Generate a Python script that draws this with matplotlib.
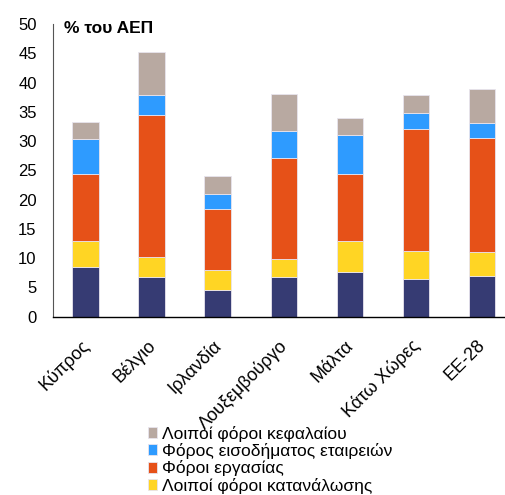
import matplotlib
matplotlib.use("Agg")
import matplotlib.pyplot as plt
import matplotlib.transforms as mtransforms
import numpy as np

plt.rcParams['font.family'] = ['Liberation Sans', 'DejaVu Sans']

countries = ['Κύπρος', 'Βέλγιο', 'Ιρλανδία', 'Λουξεμβούργο', 'Μάλτα', 'Κάτω Χώρες', 'ΕΕ-28']

# tax components, % of GDP (stacked bottom to top)
consumption = [8.5, 6.7, 4.6, 6.7, 7.7, 6.5, 7.0]
other_consumption = [4.5, 3.5, 3.3, 3.1, 5.2, 4.8, 4.1]
labour = [11.3, 24.3, 10.45, 17.35, 11.5, 20.8, 19.4]
corporate_income = [6.0, 3.3, 2.65, 4.5, 6.7, 2.75, 2.6]
other_capital = [2.9, 7.4, 3.0, 6.35, 2.8, 3.05, 5.85]

series = [
    (consumption, '#363B73', 'Φόροι κατανάλωσης'),
    (other_consumption, '#FFD524', 'Λοιποί φόροι κατανάλωσης'),
    (labour, '#E65118', 'Φόροι εργασίας'),
    (corporate_income, '#2E9BFF', 'Φόρος εισοδήματος εταιρειών'),
    (other_capital, '#B8A9A1', 'Λοιποί φόροι κεφαλαίου'),
]

fig = plt.figure(figsize=(5.05, 4.95), dpi=100)
ax = fig.add_axes([0.1043, 0.3602, 0.915, 0.5913])

x = np.arange(len(countries))
bottom = np.zeros(len(countries))
handles = []
for vals, col, lab in series:
    b = ax.bar(x, vals, width=0.4, bottom=bottom, color=col, label=lab,
               edgecolor='#E8E4EE', linewidth=0.6)
    handles.append(b)
    bottom += np.array(vals)

ax.set_xlim(-0.5, 6.5)
ax.set_ylim(0, 50)
ax.set_yticks(np.arange(0, 51, 5))
ax.tick_params(axis='y', length=0, pad=11.5, labelsize=12)
ax.tick_params(axis='x', length=0, pad=14.5, labelsize=13)
ax.set_xticks(x)
ax.set_xticklabels(countries, rotation=45, ha='right', va='top', rotation_mode='anchor')
shift = mtransforms.ScaledTranslation(-3.6 / 72, 0, fig.dpi_scale_trans)
for lbl in ax.get_xticklabels():
    lbl.set_transform(lbl.get_transform() + shift)

for s in ['top', 'right']:
    ax.spines[s].set_visible(False)
ax.spines['left'].set_color('#555555')
ax.spines['left'].set_linewidth(0.8)
ax.spines['bottom'].set_color('black')
ax.spines['bottom'].set_linewidth(1.0)

ax.text(0.025, 0.985, '% του ΑΕΠ', transform=ax.transAxes, fontsize=12.5,
        fontweight='bold', va='center', ha='left')

# legend shows top segments first; bottom entry falls off the canvas
leg_handles = handles[::-1][:4]
fig.legend(leg_handles, [h.get_label() for h in leg_handles],
           loc='upper left', bbox_to_anchor=(0.293, 0.140), frameon=False,
           fontsize=12.5, handlelength=0.52, handleheight=0.6,
           handletextpad=0.29, labelspacing=0.08, borderpad=0, borderaxespad=0)

fig.savefig('out.png', dpi=100)
